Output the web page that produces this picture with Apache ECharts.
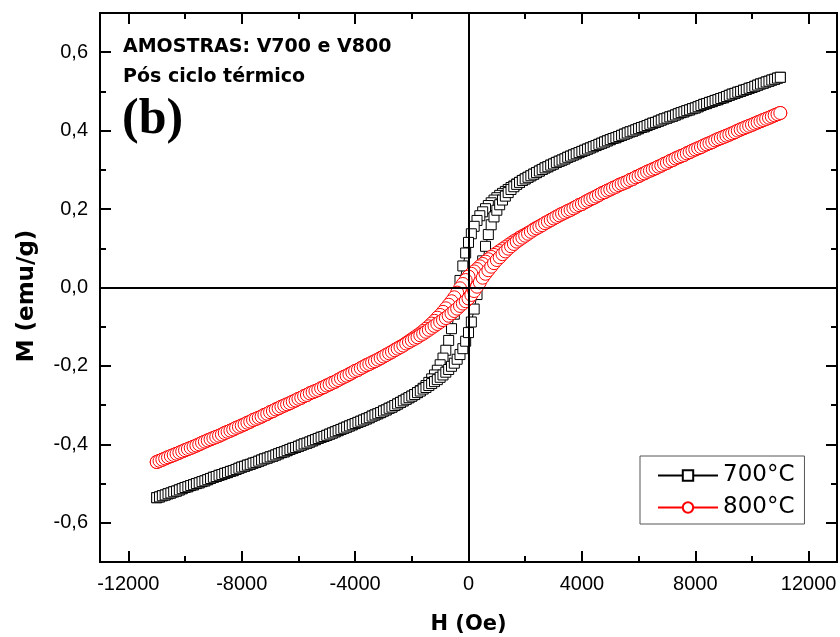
<!DOCTYPE html>
<html>
<head>
<meta charset="utf-8">
<script src="https://cdn.jsdelivr.net/npm/echarts@6/dist/echarts.min.js"></script>
<style>
  html, body { margin: 0; padding: 0; background: #fff; }
  #chart { width: 840px; height: 637px; }
</style>
</head>
<body>
<div id="chart"></div>
<script>
// Applied field H (Oe); both sweeps of each loop are sampled at these fields
const fieldOe = [
  -11000, -10900, -10800, -10700, -10600, -10500, -10400, -10300, -10200, -10100,
  -10000, -9900, -9800, -9700, -9600, -9500, -9400, -9300, -9200, -9100,
  -9000, -8900, -8800, -8700, -8600, -8500, -8400, -8300, -8200, -8100,
  -8000, -7900, -7800, -7700, -7600, -7500, -7400, -7300, -7200, -7100,
  -7000, -6900, -6800, -6700, -6600, -6500, -6400, -6300, -6200, -6100,
  -6000, -5900, -5800, -5700, -5600, -5500, -5400, -5300, -5200, -5100,
  -5000, -4900, -4800, -4700, -4600, -4500, -4400, -4300, -4200, -4100,
  -4000, -3900, -3800, -3700, -3600, -3500, -3400, -3300, -3200, -3100,
  -3000, -2900, -2800, -2700, -2600, -2500, -2400, -2300, -2200, -2100,
  -2000, -1900, -1800, -1700, -1600, -1500, -1400, -1300, -1200, -1100,
  -1000, -900, -800, -700, -600, -500, -400, -300, -200, -100,
  0,
  100, 200, 300, 400, 500, 600, 700, 800, 900, 1000,
  1100, 1200, 1300, 1400, 1500, 1600, 1700, 1800, 1900, 2000,
  2100, 2200, 2300, 2400, 2500, 2600, 2700, 2800, 2900, 3000,
  3100, 3200, 3300, 3400, 3500, 3600, 3700, 3800, 3900, 4000,
  4100, 4200, 4300, 4400, 4500, 4600, 4700, 4800, 4900, 5000,
  5100, 5200, 5300, 5400, 5500, 5600, 5700, 5800, 5900, 6000,
  6100, 6200, 6300, 6400, 6500, 6600, 6700, 6800, 6900, 7000,
  7100, 7200, 7300, 7400, 7500, 7600, 7700, 7800, 7900, 8000,
  8100, 8200, 8300, 8400, 8500, 8600, 8700, 8800, 8900, 9000,
  9100, 9200, 9300, 9400, 9500, 9600, 9700, 9800, 9900, 10000,
  10100, 10200, 10300, 10400, 10500, 10600, 10700, 10800, 10900, 11000
];

// 700 °C: sweep from +H down to -H (values listed in order of increasing H)
const m700Down = [
  -0.536, -0.534, -0.531, -0.529, -0.526, -0.524, -0.521, -0.519, -0.516, -0.513,
  -0.510, -0.508, -0.505, -0.503, -0.500, -0.498, -0.495, -0.493, -0.490, -0.487,
  -0.484, -0.482, -0.479, -0.477, -0.474, -0.472, -0.469, -0.467, -0.464, -0.461,
  -0.458, -0.456, -0.453, -0.451, -0.448, -0.446, -0.443, -0.440, -0.437, -0.435,
  -0.432, -0.430, -0.427, -0.424, -0.421, -0.419, -0.416, -0.413, -0.410, -0.408,
  -0.405, -0.402, -0.399, -0.397, -0.394, -0.391, -0.388, -0.385, -0.382, -0.380,
  -0.377, -0.374, -0.371, -0.368, -0.365, -0.362, -0.359, -0.356, -0.353, -0.350,
  -0.347, -0.344, -0.341, -0.338, -0.335, -0.332, -0.328, -0.325, -0.322, -0.319,
  -0.315, -0.312, -0.308, -0.305, -0.301, -0.297, -0.293, -0.289, -0.285, -0.281,
  -0.277, -0.273, -0.268, -0.263, -0.257, -0.250, -0.242, -0.233, -0.223, -0.211,
  -0.197, -0.180, -0.160, -0.135, -0.105, -0.068, -0.025, 0.018, 0.055, 0.088,
  0.115,
  0.137, 0.156, 0.171, 0.183, 0.193, 0.201, 0.209, 0.216, 0.223, 0.229,
  0.235, 0.240, 0.245, 0.250, 0.255, 0.259, 0.264, 0.268, 0.273, 0.277,
  0.281, 0.285, 0.289, 0.293, 0.297, 0.301, 0.305, 0.308, 0.312, 0.315,
  0.319, 0.322, 0.325, 0.328, 0.332, 0.335, 0.338, 0.341, 0.344, 0.347,
  0.350, 0.353, 0.356, 0.359, 0.362, 0.365, 0.368, 0.371, 0.374, 0.377,
  0.380, 0.382, 0.385, 0.388, 0.391, 0.394, 0.397, 0.399, 0.402, 0.405,
  0.408, 0.410, 0.413, 0.416, 0.419, 0.421, 0.424, 0.427, 0.430, 0.432,
  0.435, 0.437, 0.440, 0.443, 0.446, 0.448, 0.451, 0.453, 0.456, 0.458,
  0.461, 0.464, 0.467, 0.469, 0.472, 0.474, 0.477, 0.479, 0.482, 0.484,
  0.487, 0.490, 0.493, 0.495, 0.498, 0.500, 0.503, 0.505, 0.508, 0.510,
  0.513, 0.516, 0.519, 0.521, 0.524, 0.526, 0.529, 0.531, 0.534, 0.536
];

// 700 °C: sweep from -H back up to +H
const m700Up = [
  -0.536, -0.534, -0.531, -0.529, -0.526, -0.524, -0.521, -0.519, -0.516, -0.513,
  -0.510, -0.508, -0.505, -0.503, -0.500, -0.498, -0.495, -0.493, -0.490, -0.487,
  -0.484, -0.482, -0.479, -0.477, -0.474, -0.472, -0.469, -0.467, -0.464, -0.461,
  -0.458, -0.456, -0.453, -0.451, -0.448, -0.446, -0.443, -0.440, -0.437, -0.435,
  -0.432, -0.430, -0.427, -0.424, -0.421, -0.419, -0.416, -0.413, -0.410, -0.408,
  -0.405, -0.402, -0.399, -0.397, -0.394, -0.391, -0.388, -0.385, -0.382, -0.380,
  -0.377, -0.374, -0.371, -0.368, -0.365, -0.362, -0.359, -0.356, -0.353, -0.350,
  -0.347, -0.344, -0.341, -0.338, -0.335, -0.332, -0.328, -0.325, -0.322, -0.319,
  -0.315, -0.312, -0.308, -0.305, -0.301, -0.297, -0.293, -0.289, -0.285, -0.281,
  -0.277, -0.273, -0.268, -0.264, -0.259, -0.255, -0.250, -0.245, -0.240, -0.235,
  -0.229, -0.223, -0.216, -0.209, -0.201, -0.193, -0.183, -0.171, -0.156, -0.137,
  -0.115,
  -0.088, -0.055, -0.018, 0.025, 0.068, 0.105, 0.135, 0.160, 0.180, 0.197,
  0.211, 0.223, 0.233, 0.242, 0.250, 0.257, 0.263, 0.268, 0.273, 0.277,
  0.281, 0.285, 0.289, 0.293, 0.297, 0.301, 0.305, 0.308, 0.312, 0.315,
  0.319, 0.322, 0.325, 0.328, 0.332, 0.335, 0.338, 0.341, 0.344, 0.347,
  0.350, 0.353, 0.356, 0.359, 0.362, 0.365, 0.368, 0.371, 0.374, 0.377,
  0.380, 0.382, 0.385, 0.388, 0.391, 0.394, 0.397, 0.399, 0.402, 0.405,
  0.408, 0.410, 0.413, 0.416, 0.419, 0.421, 0.424, 0.427, 0.430, 0.432,
  0.435, 0.437, 0.440, 0.443, 0.446, 0.448, 0.451, 0.453, 0.456, 0.458,
  0.461, 0.464, 0.467, 0.469, 0.472, 0.474, 0.477, 0.479, 0.482, 0.484,
  0.487, 0.490, 0.493, 0.495, 0.498, 0.500, 0.503, 0.505, 0.508, 0.510,
  0.513, 0.516, 0.519, 0.521, 0.524, 0.526, 0.529, 0.531, 0.534, 0.536
];

// 800 °C: sweep from +H down to -H
const m800Down = [
  -0.445, -0.442, -0.439, -0.436, -0.433, -0.430, -0.427, -0.424, -0.421, -0.418,
  -0.415, -0.412, -0.409, -0.406, -0.403, -0.400, -0.396, -0.393, -0.390, -0.387,
  -0.384, -0.381, -0.378, -0.375, -0.371, -0.368, -0.365, -0.362, -0.358, -0.355,
  -0.352, -0.349, -0.345, -0.342, -0.338, -0.335, -0.332, -0.329, -0.325, -0.322,
  -0.318, -0.315, -0.311, -0.308, -0.304, -0.301, -0.298, -0.295, -0.291, -0.288,
  -0.284, -0.281, -0.277, -0.274, -0.270, -0.267, -0.264, -0.261, -0.257, -0.254,
  -0.250, -0.247, -0.243, -0.240, -0.236, -0.232, -0.228, -0.225, -0.221, -0.217,
  -0.213, -0.210, -0.206, -0.202, -0.198, -0.195, -0.191, -0.188, -0.184, -0.180,
  -0.176, -0.172, -0.168, -0.164, -0.159, -0.155, -0.151, -0.147, -0.142, -0.137,
  -0.132, -0.127, -0.122, -0.117, -0.111, -0.105, -0.099, -0.092, -0.085, -0.077,
  -0.070, -0.062, -0.053, -0.044, -0.035, -0.025, -0.013, -0.002, 0.009, 0.019,
  0.028,
  0.035, 0.041, 0.047, 0.054, 0.060, 0.066, 0.072, 0.078, 0.083, 0.088,
  0.093, 0.098, 0.103, 0.108, 0.113, 0.118, 0.122, 0.127, 0.131, 0.135,
  0.139, 0.143, 0.148, 0.152, 0.156, 0.160, 0.164, 0.168, 0.172, 0.176,
  0.180, 0.184, 0.188, 0.191, 0.195, 0.198, 0.202, 0.206, 0.210, 0.213,
  0.217, 0.221, 0.225, 0.228, 0.232, 0.236, 0.240, 0.243, 0.247, 0.250,
  0.254, 0.257, 0.261, 0.264, 0.267, 0.270, 0.274, 0.277, 0.281, 0.284,
  0.288, 0.291, 0.295, 0.298, 0.301, 0.304, 0.308, 0.311, 0.315, 0.318,
  0.322, 0.325, 0.329, 0.332, 0.335, 0.338, 0.342, 0.345, 0.349, 0.352,
  0.355, 0.358, 0.362, 0.365, 0.368, 0.371, 0.375, 0.378, 0.381, 0.384,
  0.387, 0.390, 0.393, 0.396, 0.400, 0.403, 0.406, 0.409, 0.412, 0.415,
  0.418, 0.421, 0.424, 0.427, 0.430, 0.433, 0.436, 0.439, 0.442, 0.445
];

// 800 °C: sweep from -H back up to +H
const m800Up = [
  -0.445, -0.442, -0.439, -0.436, -0.433, -0.430, -0.427, -0.424, -0.421, -0.418,
  -0.415, -0.412, -0.409, -0.406, -0.403, -0.400, -0.396, -0.393, -0.390, -0.387,
  -0.384, -0.381, -0.378, -0.375, -0.371, -0.368, -0.365, -0.362, -0.358, -0.355,
  -0.352, -0.349, -0.345, -0.342, -0.338, -0.335, -0.332, -0.329, -0.325, -0.322,
  -0.318, -0.315, -0.311, -0.308, -0.304, -0.301, -0.298, -0.295, -0.291, -0.288,
  -0.284, -0.281, -0.277, -0.274, -0.270, -0.267, -0.264, -0.261, -0.257, -0.254,
  -0.250, -0.247, -0.243, -0.240, -0.236, -0.232, -0.228, -0.225, -0.221, -0.217,
  -0.213, -0.210, -0.206, -0.202, -0.198, -0.195, -0.191, -0.188, -0.184, -0.180,
  -0.176, -0.172, -0.168, -0.164, -0.160, -0.156, -0.152, -0.148, -0.143, -0.139,
  -0.135, -0.131, -0.127, -0.122, -0.118, -0.113, -0.108, -0.103, -0.098, -0.093,
  -0.088, -0.083, -0.078, -0.072, -0.066, -0.060, -0.054, -0.047, -0.041, -0.035,
  -0.028,
  -0.019, -0.009, 0.002, 0.013, 0.025, 0.035, 0.044, 0.053, 0.062, 0.070,
  0.077, 0.085, 0.092, 0.099, 0.105, 0.111, 0.117, 0.122, 0.127, 0.132,
  0.137, 0.142, 0.147, 0.151, 0.155, 0.159, 0.164, 0.168, 0.172, 0.176,
  0.180, 0.184, 0.188, 0.191, 0.195, 0.198, 0.202, 0.206, 0.210, 0.213,
  0.217, 0.221, 0.225, 0.228, 0.232, 0.236, 0.240, 0.243, 0.247, 0.250,
  0.254, 0.257, 0.261, 0.264, 0.267, 0.270, 0.274, 0.277, 0.281, 0.284,
  0.288, 0.291, 0.295, 0.298, 0.301, 0.304, 0.308, 0.311, 0.315, 0.318,
  0.322, 0.325, 0.329, 0.332, 0.335, 0.338, 0.342, 0.345, 0.349, 0.352,
  0.355, 0.358, 0.362, 0.365, 0.368, 0.371, 0.375, 0.378, 0.381, 0.384,
  0.387, 0.390, 0.393, 0.396, 0.400, 0.403, 0.406, 0.409, 0.412, 0.415,
  0.418, 0.421, 0.424, 0.427, 0.430, 0.433, 0.436, 0.439, 0.442, 0.445
];

const seriesNames = ['700°C', '800°C'];
const hLabelTicks = [-12000, -8000, -4000, 0, 4000, 8000, 12000];
const hMinorTicks = [-10000, -6000, -2000, 2000, 6000, 10000];
const mLabelTicks = [-0.6, -0.4, -0.2, 0, 0.2, 0.4, 0.6];
const mMinorTicks = [-0.5, -0.3, -0.1, 0.1, 0.3, 0.5];

// Whole loop: down-sweep from +H to -H, then up-sweep back to +H
function loop(down, up) {
  const pts = [];
  for (let i = fieldOe.length - 1; i >= 0; i--) pts.push([fieldOe[i], down[i]]);
  for (let i = 0; i < fieldOe.length; i++) pts.push([fieldOe[i], up[i]]);
  return pts;
}

const SANS = '"Liberation Sans", Arial, Helvetica, sans-serif';
const WIDE = '"DejaVu Sans", Verdana, sans-serif';

function hAxis(position, ticks, len, labelled) {
  return {
    type: 'value', position: position, min: -13000, max: 13000,
    axisLine: { show: true, onZero: false, lineStyle: { color: '#000', width: 2 } },
    axisTick: { show: true, inside: true, length: len, customValues: ticks,
                lineStyle: { color: '#000', width: 2 } },
    axisLabel: { show: labelled, customValues: ticks, margin: 12,
                 fontFamily: SANS, fontSize: 20, color: '#000',
                 formatter: v => String(v) },
    splitLine: { show: false },
    name: labelled ? 'H (Oe)' : '', nameLocation: 'middle', nameGap: 52,
    nameTextStyle: { fontFamily: WIDE, fontSize: 21, fontWeight: 'bold', color: '#000' }
  };
}

function mAxis(position, ticks, len, labelled) {
  return {
    type: 'value', position: position, min: -0.7, max: 0.7,
    axisLine: { show: true, onZero: false, lineStyle: { color: '#000', width: 2 } },
    axisTick: { show: true, inside: true, length: len, customValues: ticks,
                lineStyle: { color: '#000', width: 2 } },
    axisLabel: { show: labelled, customValues: ticks, margin: 12,
                 fontFamily: SANS, fontSize: 20, color: '#000',
                 formatter: v => v.toFixed(1).replace('.', ',') },
    splitLine: { show: false }
  };
}

const chart = echarts.init(document.getElementById('chart'), null, { renderer: 'canvas' });

chart.setOption({
  animation: false,
  backgroundColor: '#fff',
  grid: { left: 100, right: 3, top: 13, bottom: 75, containLabel: false,
          outerBoundsMode: 'none' },
  xAxis: [
    hAxis('bottom', hLabelTicks, 11, true),
    hAxis('bottom', hMinorTicks, 6, false),
    hAxis('top', hLabelTicks, 11, false),
    hAxis('top', hMinorTicks, 6, false)
  ],
  yAxis: [
    mAxis('left', mLabelTicks, 11, true),
    mAxis('left', mMinorTicks, 6, false),
    mAxis('right', mLabelTicks, 11, false),
    mAxis('right', mMinorTicks, 6, false)
  ],
  legend: {
    data: seriesNames,
    orient: 'vertical',
    left: 640, top: 456,
    padding: [8, 10, 5, 17],
    itemWidth: 60, itemHeight: 13, itemGap: 9,
    borderColor: '#555', borderWidth: 1,
    textStyle: { fontFamily: WIDE, fontSize: 23, color: '#000' }
  },
  graphic: [
    // vertical axis title
    { type: 'text', x: 27, y: 296, rotation: Math.PI / 2,
      style: { text: 'M (emu/g)', fontFamily: WIDE, fontSize: 23, fontWeight: 'bold',
               fill: '#000', align: 'center', verticalAlign: 'middle' } },
    { type: 'text', x: 123, y: 47,
      style: { text: 'AMOSTRAS: V700 e V800', fontFamily: WIDE, fontSize: 19,
               fontWeight: 'bold', fill: '#000', verticalAlign: 'middle' } },
    { type: 'text', x: 123, y: 77,
      style: { text: 'Pós ciclo térmico', fontFamily: WIDE, fontSize: 19,
               fontWeight: 'bold', fill: '#000', verticalAlign: 'middle' } },
    { type: 'text', x: 122, y: 120,
      style: { text: '(b)', fontFamily: '"Liberation Serif", "Times New Roman", serif',
               fontSize: 50, fontWeight: 'bold', fill: '#000', verticalAlign: 'middle' } }
  ],
  series: [
    {
      // axes through the origin, drawn beneath the loops
      type: 'line', data: [], z: 1, silent: true,
      markLine: {
        silent: true, symbol: ['none', 'none'], label: { show: false },
        lineStyle: { color: '#000', width: 2, type: 'solid' },
        emphasis: { disabled: true },
        data: [{ xAxis: 0 }, { yAxis: 0 }]
      }
    },
    {
      name: seriesNames[0], type: 'line', z: 2,
      data: loop(m700Down, m700Up),
      symbol: 'rect', symbolSize: 10, showAllSymbol: true,
      lineStyle: { color: '#000', width: 1 },
      itemStyle: { color: '#fff', borderColor: '#000', borderWidth: 1 }
    },
    {
      name: seriesNames[1], type: 'line', z: 3,
      data: loop(m800Down, m800Up),
      symbol: 'circle', symbolSize: 13, showAllSymbol: true,
      lineStyle: { color: '#ff0000', width: 1 },
      itemStyle: { color: '#fff', borderColor: '#ff0000', borderWidth: 1 }
    }
  ]
});
</script>
</body>
</html>
